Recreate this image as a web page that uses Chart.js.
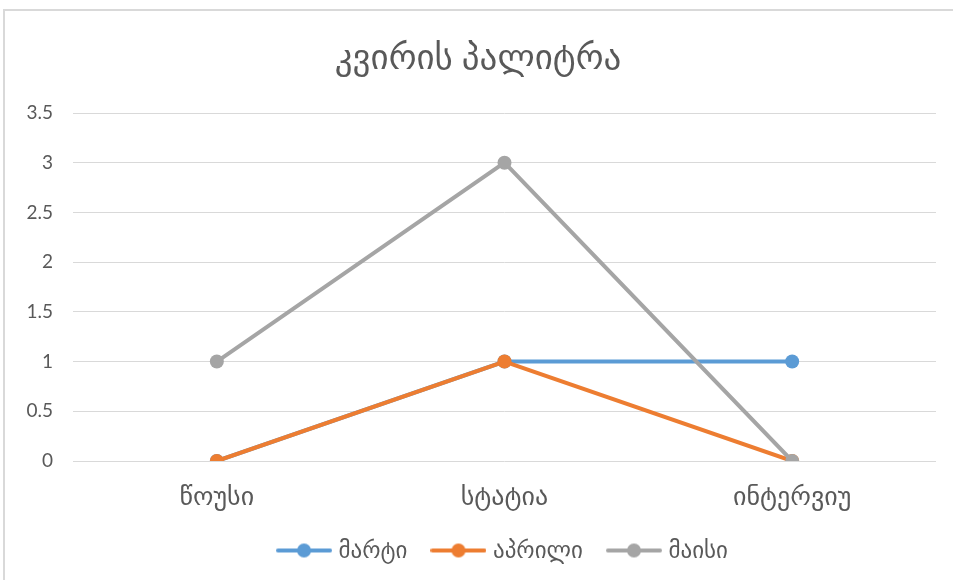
<!DOCTYPE html>
<html>
<head>
<meta charset="utf-8">
<script src="https://cdn.jsdelivr.net/npm/chart.js@4"></script>
<style>
    html, body { margin: 0; padding: 0; background: #fff; }
    #wrap { position: relative; width: 953px; height: 580px; overflow: hidden; }
    #frame { position: absolute; left: 3px; top: 9px; width: 1000px; height: 600px;
             border-left: 2px solid #d9d9d9; border-top: 2px solid #d9d9d9; }
    canvas { position: absolute; left: 0; top: 0; }
</style>
</head>
<body>
<div id="wrap">
    <div id="frame"></div>
    <canvas id="chart" width="953" height="580"></canvas>
</div>
<script>
const categories = ['წოუსი', 'სტატია', 'ინტერვიუ'];
const seriesNames = ['მარტი', 'აპრილი', 'მაისი'];
const martValues = [0, 1, 1];
const aprilValues = [0, 1, 0];
const maisValues = [1, 3, 0];
const seriesColors = ['#5B9BD5', '#ED7D31', '#A5A5A5'];

const fontFamily = "Lato, 'DejaVu Sans', sans-serif";

// legend marker: line with a dot in the middle
function legendMarker(color) {
    const c = document.createElement('canvas');
    c.width = 56; c.height = 16;
    const g = c.getContext('2d');
    g.strokeStyle = color;
    g.lineWidth = 4;
    g.lineCap = 'round';
    g.beginPath(); g.moveTo(2, 8); g.lineTo(54, 8); g.stroke();
    g.fillStyle = color;
    g.beginPath(); g.arc(28, 8, 7, 0, Math.PI * 2); g.fill();
    return c;
}

const allValues = [martValues, aprilValues, maisValues];
const datasets = allValues.map((vals, i) => ({
    label: seriesNames[i],
    data: vals,
    borderColor: seriesColors[i],
    backgroundColor: seriesColors[i],
    borderWidth: 4,
    pointRadius: 7,
    pointHoverRadius: 7,
    pointBorderWidth: 0,
    tension: 0,
    order: 3 - i
}));

const leftPad = 20;

new Chart(document.getElementById('chart').getContext('2d'), {
    type: 'line',
    data: { labels: categories, datasets: datasets },
    options: {
        responsive: false,
        animation: false,
        layout: { padding: { left: leftPad, right: 17, top: 0, bottom: 8 } },
        plugins: {
            title: {
                display: true,
                text: 'კვირის პალიტრა',
                color: '#595959',
                font: { family: fontFamily, size: 35, weight: 'normal' },
                padding: { top: 37, bottom: 34 }
            },
            legend: {
                position: 'bottom',
                fullSize: false,
                labels: {
                    color: '#595959',
                    font: { family: fontFamily, size: 23 },
                    usePointStyle: true,
                    pointStyleWidth: 46,
                    padding: 28,
                    generateLabels: (chart) => chart.data.datasets.map((ds, i) => ({
                        text: ds.label,
                        fontColor: '#595959',
                        pointStyle: legendMarker(seriesColors[i]),
                        datasetIndex: i,
                        lineWidth: 0,
                        strokeStyle: 'transparent',
                        fillStyle: seriesColors[i]
                    }))
                }
            },
            tooltip: { enabled: false }
        },
        scales: {
            x: {
                offset: true,
                grid: { display: false },
                border: { display: false },
                ticks: { color: '#595959', font: { family: fontFamily, size: 26 }, padding: 12 },
                afterFit: (scale) => { scale.height = 50; }
            },
            y: {
                min: 0,
                max: 3.5,
                ticks: {
                    stepSize: 0.5,
                    color: '#595959',
                    font: { family: fontFamily, size: 19 },
                    padding: 20,
                    callback: (v) => String(v)
                },
                grid: { color: '#d9d9d9', lineWidth: 1, drawTicks: false },
                border: { display: false },
                afterFit: (scale) => { scale.width = 73 - leftPad; }
            }
        }
    }
});
</script>
</body>
</html>
